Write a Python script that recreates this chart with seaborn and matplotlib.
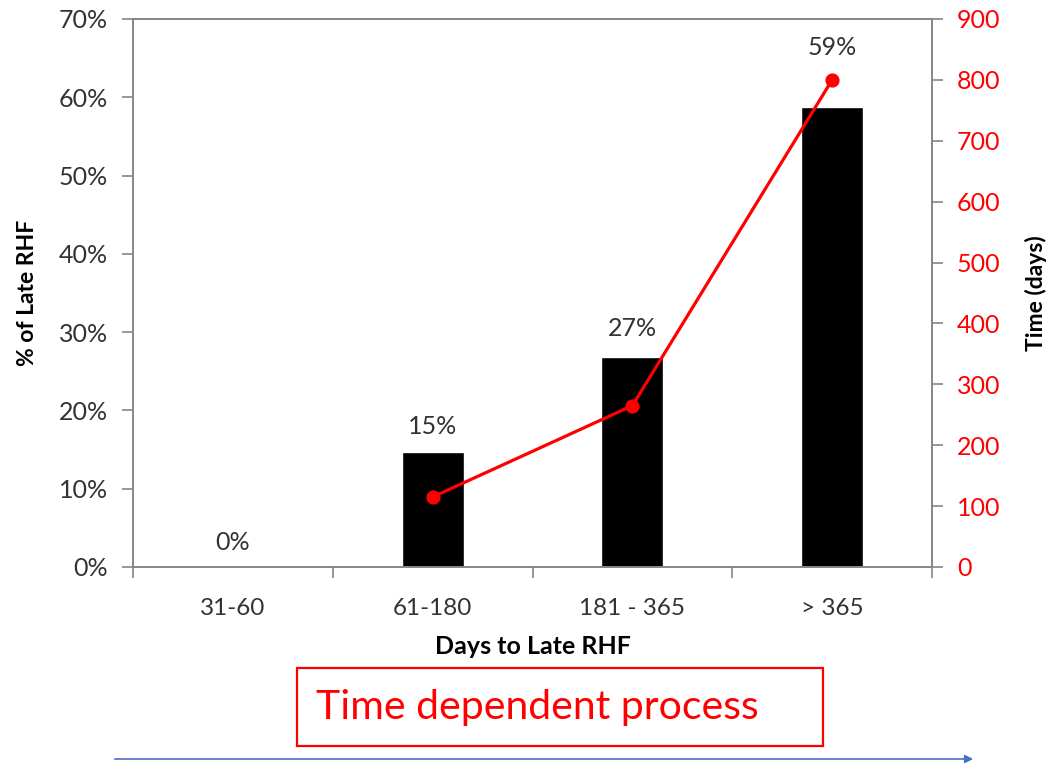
import numpy as np
import pandas as pd
import matplotlib
matplotlib.use("Agg")
import matplotlib.pyplot as plt
from matplotlib.ticker import PercentFormatter, MultipleLocator
from matplotlib.patches import Rectangle, FancyArrowPatch
import seaborn as sns

# Data
categories = ["31-60", "61-180", "181 - 365", "> 365"]
late_rhf_share = [0.0, 0.147, 0.268, 0.587]      # fraction of late RHF per window
time_days = [np.nan, 115, 265, 800]               # time (days) per window

sns.set_style("ticks")
plt.rcParams["font.family"] = ["Lato", "DejaVu Sans"]

GREY = "#868686"
TXT = "#333333"
RED = "#FF0000"

df = pd.DataFrame({"window": categories, "share": late_rhf_share, "days": time_days})

fig = plt.figure(figsize=(10.61, 7.64), dpi=100)
W, H = 1061, 764
ax = fig.add_axes([133 / W, 1 - 567 / H, (932 - 133) / W, (567 - 19) / H])

sns.barplot(data=df, x="window", y="share", order=categories, color="black",
            saturation=1, width=0.31, ax=ax)

ax.set_ylim(0, 0.70)
ax.yaxis.set_major_locator(MultipleLocator(0.10))
ax.yaxis.set_major_formatter(PercentFormatter(1.0, decimals=0))

# value labels above the bars
label_offsets_pt = [18, 18, 21, 43]
for i, (v, off) in enumerate(zip(late_rhf_share, label_offsets_pt)):
    ax.annotate(f"{v:.0%}", xy=(i, v), xytext=(0, off), textcoords="offset points",
                ha="center", va="center", fontsize=18, color=TXT)

# secondary axis: time in days
ax2 = ax.twinx()
line_df = df.dropna(subset=["days"])
sns.pointplot(data=line_df, x="window", y="days", order=categories, color=RED,
              markers="o", markersize=8.5, linewidth=2.3, errorbar=None, ax=ax2)
ax2.set_ylim(0, 900)
ax2.yaxis.set_major_locator(MultipleLocator(100))
ax.set_xlim(-0.5, len(categories) - 0.5)
ax2.set_xlim(-0.5, len(categories) - 0.5)

# x ticks: labels at centers, tick marks at category boundaries
ax.set_xticks(range(len(categories)))
ax.set_xticklabels(categories)
ax.set_xticks(np.arange(-0.5, len(categories), 1.0), minor=True)
ax.tick_params(axis="x", which="major", length=0, pad=22, labelsize=17.5, labelcolor=TXT)
ax.tick_params(axis="x", which="minor", length=8, width=1.2, color=GREY, direction="out")
ax.tick_params(axis="y", length=8, width=1.2, color=GREY, labelsize=18, labelcolor=TXT, pad=10)
ax2.tick_params(axis="y", length=8, width=1.2, color=GREY, labelsize=18, labelcolor=RED, pad=10)

for a in (ax, ax2):
    for s in a.spines.values():
        s.set_visible(True)
        s.set_color(GREY)
        s.set_linewidth(1.2)
    a.grid(False)

ax.set_xlabel("Days to Late RHF", fontsize=18, fontweight="bold", color="black")
ax.set_ylabel("% of Late RHF", fontsize=16.5, fontweight="bold", color="black")
ax2.set_ylabel("Time (days)", fontsize=16.5, fontweight="bold", color="black")
ax.xaxis.set_label_coords(0.5, -0.124)
ax.yaxis.set_label_coords(-0.119, 0.5)
ax2.yaxis.set_label_coords(1.116, 0.5)

# caption box
fig.add_artist(Rectangle((297 / W, 1 - 746 / H), (823 - 297) / W, (746 - 668) / H,
                         transform=fig.transFigure, fill=False, edgecolor=RED, linewidth=1.6))
fig.text(537 / W, 1 - 708 / H, "Time dependent process", ha="center", va="center",
         fontsize=29.5, color=RED)

# timeline arrow
fig.add_artist(FancyArrowPatch((112 / W, 1 - 759 / H), (976 / W, 1 - 759 / H),
                               transform=fig.transFigure, arrowstyle="-|>",
                               mutation_scale=12, color="#4472C4", linewidth=1.2))

fig.savefig("out.png", dpi=100, facecolor="white")
